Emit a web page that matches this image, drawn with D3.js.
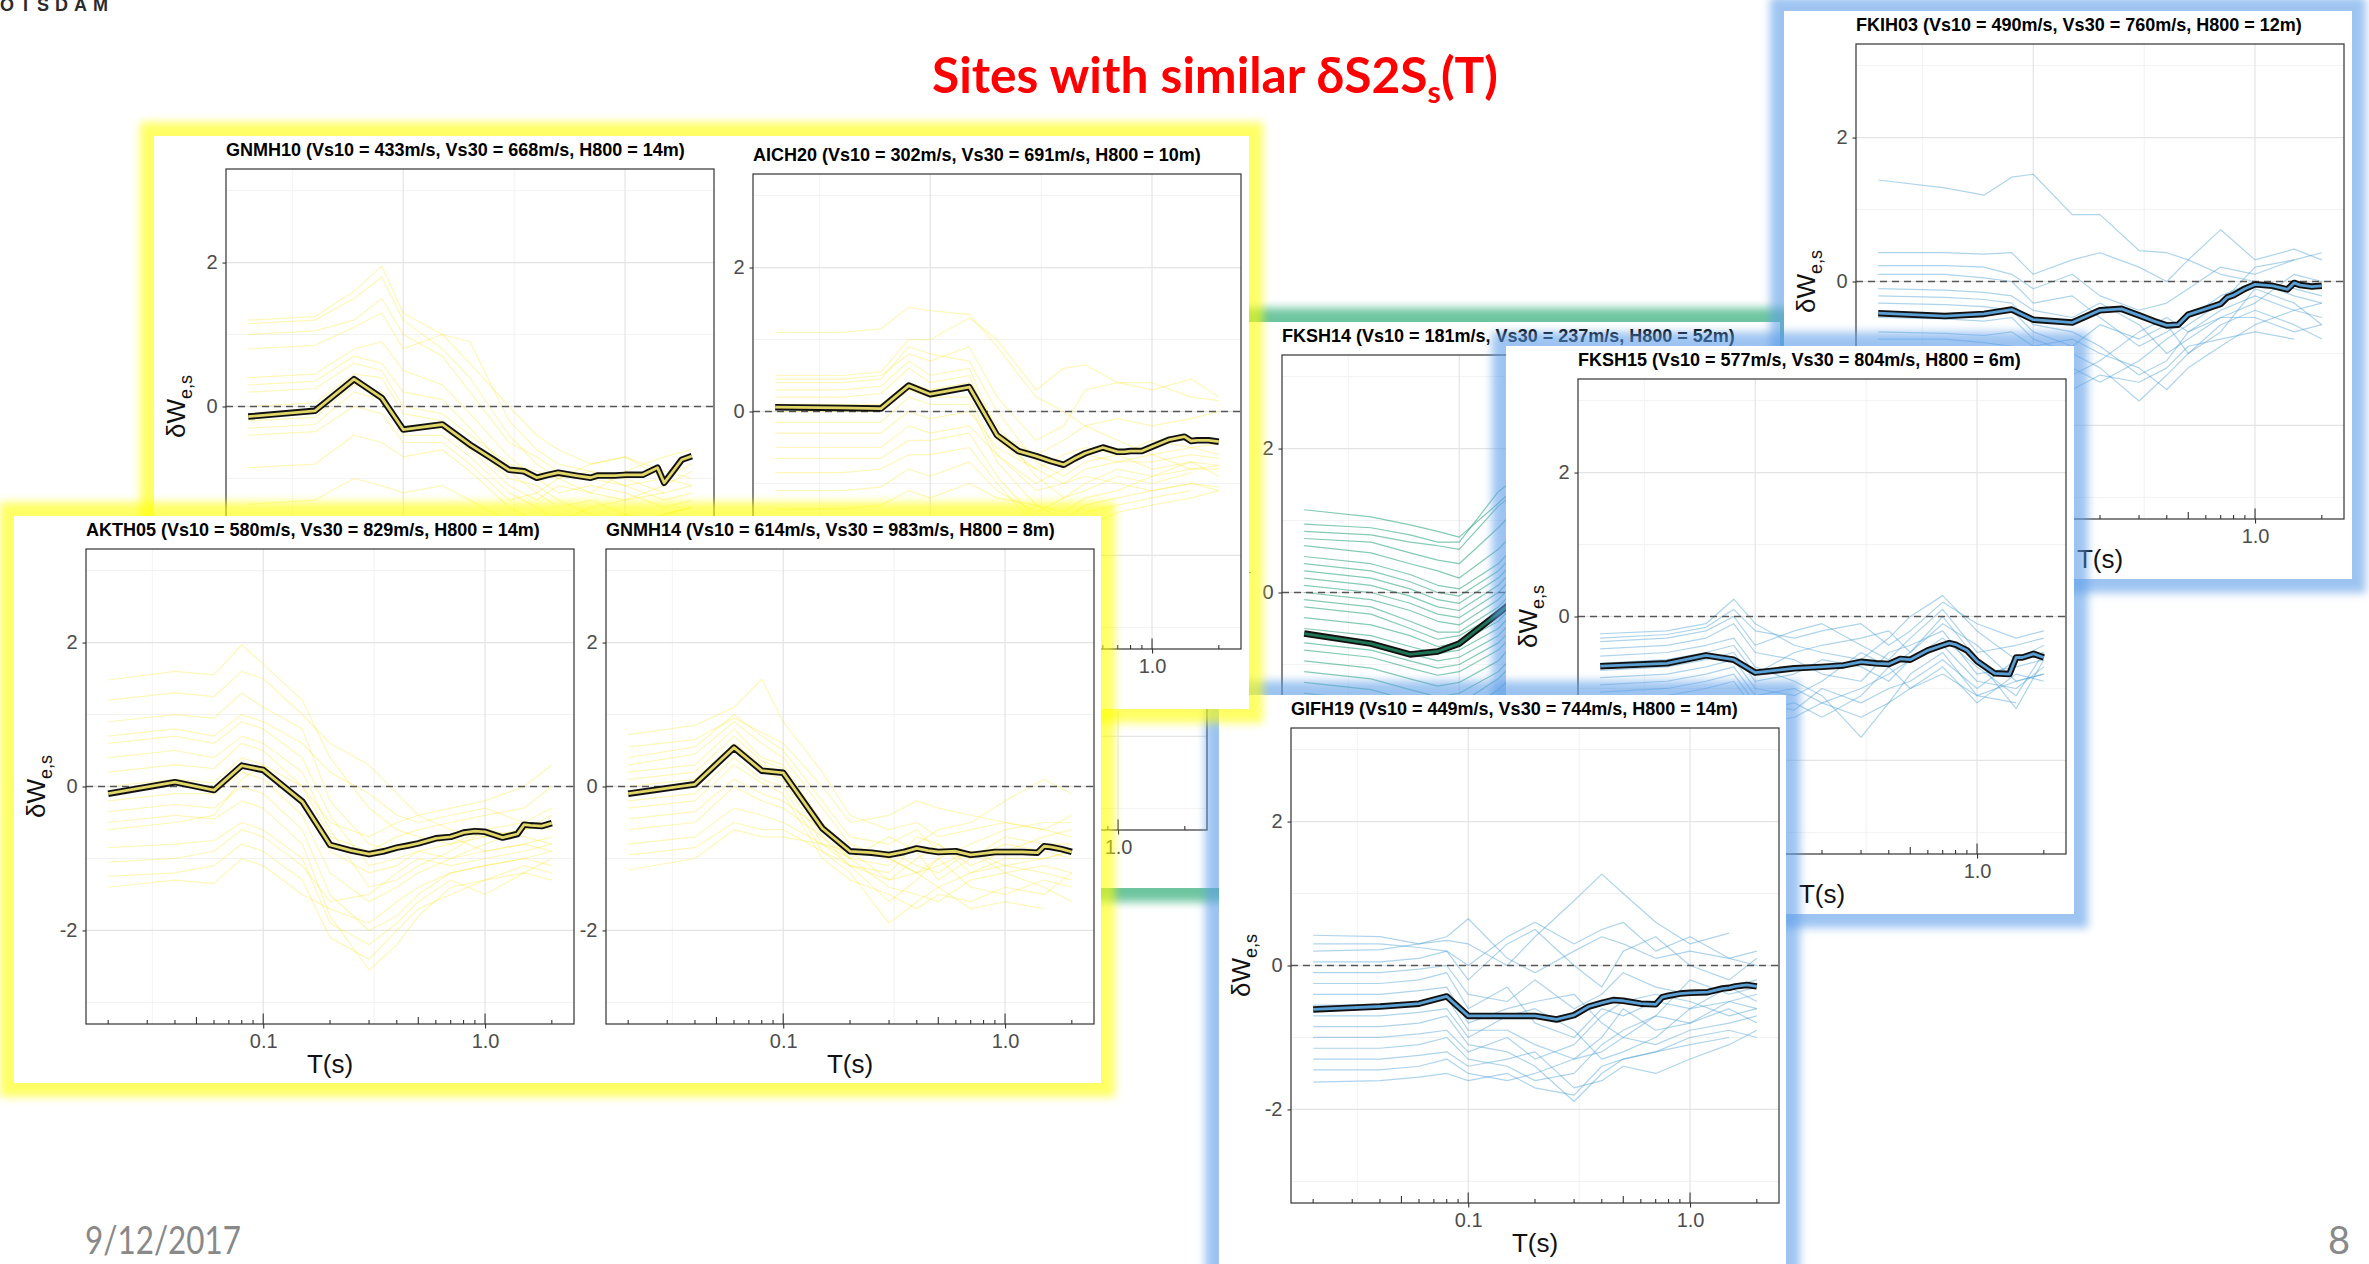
<!DOCTYPE html>
<html>
<head>
<meta charset="utf-8">
<script src="https://cdn.jsdelivr.net/npm/d3@7"></script>
<style>
  html, body { margin: 0; padding: 0; background: #ffffff; }
  svg { display: block; }
</style>
</head>
<body>
<svg id="slide" width="2369" height="1264"></svg>
<script>
// ---------------------------------------------------------------------------
// Data
// ---------------------------------------------------------------------------

// Site metadata
const siteCodes = ["GNMH10", "AICH20", "AKTH05", "GNMH14", "FKSH14", "FKSH15", "GIFH19", "FKIH03"];
const vs10 = [433, 302, 580, 614, 181, 577, 449, 490];
const vs30 = [668, 691, 829, 983, 237, 804, 744, 760];
const h800 = [14, 10, 14, 8, 52, 6, 14, 12];

// Periods (s) of the site-average curve
const meanPeriods = [0.02, 0.04, 0.06, 0.08, 0.1, 0.15, 0.2, 0.25, 0.3, 0.35, 0.4, 0.45, 0.5,
                     0.6, 0.7, 0.75, 0.8, 0.9, 1.0, 1.2, 1.4, 1.5, 1.6, 1.8, 2.0];
// Periods (s) of the individual-record curves
const recordPeriods = [0.02, 0.04, 0.06, 0.08, 0.1, 0.15, 0.2, 0.3, 0.4, 0.5, 0.7, 1.0, 1.5, 2.0];

// Axis breaks and labels
const yLimits = [-3, 3];
const yMajorBreaks = [-2, 0, 2];
const yMinorBreaks = [-3, -1, 1, 3];
const xMajorBreaks = [0.1, 1.0];
const xTickLabels = ["0.1", "1.0"];

// Site-average dW_es per site
const meanGNMH10 = [-0.14, -0.06, 0.38, 0.12, -0.32, -0.25, -0.53, -0.72, -0.88, -0.90, -0.99, -0.95, -0.92,
                    -0.96, -0.99, -0.96, -0.96, -0.96, -0.95, -0.95, -0.85, -1.06, -0.95, -0.74, -0.69];
const meanAICH20 = [0.06, 0.05, 0.04, 0.36, 0.24, 0.34, -0.33, -0.55, -0.62, -0.69, -0.74, -0.65, -0.58,
                    -0.50, -0.56, -0.56, -0.55, -0.55, -0.49, -0.39, -0.35, -0.41, -0.40, -0.40, -0.42];
const meanAKTH05 = [-0.10, 0.06, -0.05, 0.29, 0.23, -0.21, -0.81, -0.89, -0.94, -0.90, -0.85, -0.82, -0.79,
                    -0.72, -0.70, -0.67, -0.64, -0.62, -0.63, -0.71, -0.66, -0.53, -0.54, -0.55, -0.51];
const meanGNMH14 = [-0.10, 0.03, 0.54, 0.22, 0.19, -0.58, -0.90, -0.92, -0.95, -0.91, -0.86, -0.89, -0.91,
                    -0.90, -0.95, -0.94, -0.93, -0.91, -0.91, -0.91, -0.92, -0.83, -0.84, -0.87, -0.91];
const meanFKSH14 = [-0.57, -0.71, -0.86, -0.82, -0.71, -0.29, 0.02, 0.20, 0.30, 0.34, 0.33, 0.30, 0.26,
                    0.20, 0.14, 0.12, 0.09, 0.05, 0.01, -0.04, -0.08, -0.10, -0.11, -0.14, -0.15];
const meanFKSH15 = [-0.69, -0.65, -0.54, -0.60, -0.78, -0.72, -0.70, -0.68, -0.63, -0.65, -0.66, -0.59, -0.60,
                    -0.47, -0.40, -0.37, -0.39, -0.47, -0.62, -0.79, -0.80, -0.57, -0.57, -0.52, -0.57];
const meanGIFH19 = [-0.61, -0.57, -0.53, -0.43, -0.70, -0.70, -0.70, -0.75, -0.69, -0.57, -0.52, -0.48, -0.49,
                    -0.53, -0.54, -0.44, -0.42, -0.39, -0.38, -0.37, -0.32, -0.31, -0.29, -0.27, -0.29];
const meanFKIH03 = [-0.44, -0.48, -0.45, -0.39, -0.53, -0.57, -0.40, -0.38, -0.47, -0.55, -0.61, -0.60, -0.46,
                    -0.38, -0.31, -0.22, -0.19, -0.10, -0.04, -0.06, -0.11, -0.02, -0.05, -0.07, -0.06];

// Individual records dW_es per site (null = period not usable)
const recordsGNMH10 = [
  [1.20, 1.25, 1.60, 1.95, 1.30, 1.00, 0.90, -0.20, -0.60, -0.80, -0.90, -1.00, -1.20, -1.10],
  [1.15, 1.20, 1.50, 1.80, 1.20, 0.80, 0.40, -0.40, -0.80, -1.00, -1.20, -1.30, -1.10, -0.90],
  [1.00, 1.05, 1.20, 1.50, 1.00, 0.70, 0.20, -0.50, -0.70, -0.90, -1.00, -1.10, -1.30, -1.20],
  [0.80, 0.85, 1.10, 1.30, 0.80, 1.00, 0.60, 0.00, -0.40, -0.60, -0.80, -0.70, -0.90, -1.00],
  [0.40, 0.45, 0.80, 0.90, 0.50, 0.30, -0.10, -0.70, -1.00, -1.20, -1.10, -1.20, -1.40, -1.30],
  [0.30, 0.35, 0.70, 0.60, 0.20, 0.10, -0.30, -0.90, -1.20, -1.40, -1.30, -1.50, -1.60, null],
  [0.20, 0.25, 0.60, 0.50, 0.00, -0.10, -0.40, -0.80, -0.90, -1.00, -0.90, -1.10, -1.00, -0.80],
  [0.00, 0.05, 0.45, 0.40, -0.10, -0.20, -0.50, -1.00, -1.10, -1.30, -1.50, -1.60, -1.50, -1.40],
  [-0.20, -0.15, 0.30, 0.20, -0.30, -0.30, -0.60, -1.10, -1.30, -1.10, -1.20, -0.90, -0.70, -0.60],
  [-0.30, -0.25, 0.20, 0.10, -0.40, -0.40, -0.70, -1.20, -1.40, -1.60, -1.40, -1.30, -1.20, null],
  [-0.40, -0.35, 0.00, -0.10, -0.50, -0.50, -0.80, -1.30, -1.20, -1.00, -0.80, -0.70, -1.00, -1.10],
  [-0.85, -0.80, -0.40, -0.50, -0.70, -0.60, -0.90, -1.40, -1.60, -1.50, -1.70, -1.80, -1.50, -1.40],
  [-1.36, -1.30, -1.00, -1.10, -1.20, -1.10, -1.30, -1.60, -1.80, -1.70, -1.60, -1.50, -1.60, -1.70]
];
const recordsAICH20 = [
  [1.10, 1.10, 1.15, 1.45, 1.40, 1.35, 0.90, 0.20, 0.00, -0.20, -0.40, -0.60, -0.50, -0.60],
  [0.50, 0.50, 0.55, 1.00, 1.00, 1.30, 1.00, 0.30, 0.60, 0.65, 0.40, 0.30, 0.45, 0.20],
  [0.45, 0.45, 0.50, 0.80, 0.70, 0.90, 0.20, -0.40, -0.20, 0.30, 0.40, 0.40, 0.20, 0.15],
  [0.40, 0.40, 0.45, 0.90, 0.80, 0.70, 0.00, -0.70, -0.90, -0.70, -0.60, -0.80, -0.70, -0.90],
  [0.30, 0.30, 0.35, 0.70, 0.50, 0.60, -0.30, -0.60, -0.40, -0.20, -0.10, -0.20, -0.10, 0.00],
  [0.20, 0.20, 0.25, 0.60, 0.40, 0.50, -0.40, -0.80, -1.00, -0.80, -0.70, -0.60, -0.80, -0.75],
  [0.10, 0.10, 0.10, 0.40, 0.30, 0.40, -0.20, -0.90, -1.20, -1.10, -0.90, -1.00, -0.85, null],
  [0.00, 0.00, 0.00, 0.30, 0.20, 0.20, -0.60, -1.10, -1.00, -0.90, -1.00, -1.10, -1.00, -1.10],
  [-0.15, -0.15, -0.15, 0.20, 0.10, 0.10, -0.70, -1.30, -1.40, -1.20, -1.10, -0.90, -0.80, -0.80],
  [-0.30, -0.30, -0.30, 0.00, -0.10, 0.00, -0.50, -0.80, -0.60, -0.50, -0.60, -0.40, -0.50, -0.45],
  [-0.50, -0.50, -0.50, -0.20, -0.30, -0.20, -0.60, -1.00, -0.80, -0.60, -0.70, -0.70, -0.60, -0.65],
  [-0.65, -0.65, -0.65, -0.40, -0.40, -0.30, -0.90, -1.50, -1.70, -1.40, -1.30, -1.20, -1.10, null],
  [-0.85, -0.85, -0.80, -0.60, -0.60, -0.50, -1.00, -1.60, -1.90, -1.60, -1.40, -1.30, -1.20, -1.10],
  [-1.10, -1.10, -1.05, -0.80, -0.90, -0.70, -1.10, -1.40, -1.20, -1.00, -0.80, -0.90, -0.70, -0.75],
  [-1.36, -1.35, -1.30, -1.10, -1.20, -1.00, -1.20, -1.30, -1.50, -1.30, -1.20, -1.10, -1.00, -1.05]
];
const recordsAKTH05 = [
  [1.48, 1.60, 1.55, 1.97, 1.70, 1.20, 0.40, -0.30, -0.60, -0.70, -0.80, -0.60, -0.50, -0.30],
  [1.20, 1.30, 1.25, 1.60, 1.50, 1.00, 0.60, 0.30, -0.10, -0.40, -0.60, -0.70, -0.60, -0.50],
  [0.90, 1.00, 0.95, 1.30, 1.10, 0.80, -0.20, -0.80, -0.90, -0.80, -0.70, -0.90, -0.80, -0.70],
  [0.70, 0.80, 0.70, 1.00, 0.90, 0.60, 0.20, -0.10, -0.40, -0.50, -0.40, -0.30, -0.50, -0.60],
  [0.60, 0.70, 0.60, 0.90, 0.80, 0.40, -0.40, -1.10, -1.00, -0.90, -1.00, -0.80, -0.60, -0.40],
  [0.40, 0.50, 0.40, 0.70, 0.60, 0.20, -0.60, -1.40, -1.30, -1.10, -0.90, -0.60, -0.70, -0.80],
  [0.20, 0.30, 0.25, 0.60, 0.50, 0.00, -0.70, -0.90, -0.70, -0.60, -0.50, -0.40, -0.30, 0.00],
  [0.00, 0.10, 0.05, 0.40, 0.30, -0.20, -0.90, -1.20, -1.10, -0.90, -0.80, -0.70, -0.60, -0.50],
  [-0.20, -0.10, -0.10, 0.20, 0.10, -0.40, -1.20, -1.60, -1.40, -1.20, -1.00, -0.90, -0.80, -0.90],
  [-0.35, -0.25, -0.30, 0.00, -0.10, -0.60, -1.50, -2.00, -1.80, -1.50, -1.20, -1.10, -1.00, -1.10],
  [-0.50, -0.40, -0.45, -0.20, -0.30, -0.80, -1.80, -2.55, -2.20, -1.80, -1.40, -1.30, -1.20, -1.30],
  [-0.60, -0.50, -0.40, 0.10, 0.30, 0.00, -0.50, -0.70, -0.50, -0.40, -0.30, -0.20, 0.00, 0.30],
  [-0.85, -0.80, -0.75, -0.50, -0.60, -1.00, -1.90, -2.20, -1.90, -1.60, -1.30, -1.50, -1.20, -1.00],
  [-1.05, -1.00, -0.90, -0.60, -0.70, -1.10, -1.60, -1.50, -1.20, -1.00, -1.10, -1.00, -0.90, -0.80],
  [-1.25, -1.20, -1.10, -0.80, -0.90, -1.30, -2.10, -2.40, -2.00, -1.70, -1.50, -1.30, -1.10, -1.20],
  [-1.40, -1.30, -1.35, -1.00, -1.10, -1.50, -1.70, -1.90, -1.60, -1.40, -1.20, -1.10, -1.00, -0.90]
];
const recordsGNMH14 = [
  [0.72, 0.85, 1.10, 1.49, 0.90, 0.20, -0.40, -0.60, -0.50, -0.70, -0.60, -0.50, -0.60, -0.70],
  [0.55, 0.65, 0.95, 0.75, 0.60, 0.00, -0.50, -0.40, -0.20, -0.30, -0.40, -0.50, -0.60, -0.40],
  [0.40, 0.55, 1.00, 0.70, 0.50, -0.20, -0.70, -0.80, -0.60, -0.90, -1.00, -0.80, -0.90, -1.00],
  [0.30, 0.45, 0.90, 0.60, 0.40, -0.30, -0.80, -1.00, -1.20, -1.10, -0.90, -1.20, -1.10, -1.20],
  [0.20, 0.30, 0.80, 0.40, 0.30, -0.50, -0.90, -1.30, -1.00, -0.80, -1.20, -1.00, -1.00, -0.90],
  [0.10, 0.20, 0.70, 0.35, 0.25, -0.60, -1.00, -0.70, -0.90, -1.30, -1.00, -0.70, -0.80, -0.80],
  [0.00, 0.10, 0.60, 0.30, 0.20, -0.70, -1.10, -1.60, -1.30, -1.00, -1.40, -1.50, -1.30, -1.40],
  [-0.10, 0.00, 0.50, 0.20, 0.10, -0.80, -1.10, -1.20, -0.80, -0.60, -0.50, -0.20, 0.10, -0.10],
  [-0.20, -0.10, 0.40, 0.10, 0.00, -0.90, -1.20, -1.90, -1.60, -1.40, -1.20, -1.10, -1.20, -1.30],
  [-0.30, -0.20, 0.30, 0.05, -0.10, -1.00, -1.30, -1.50, -1.70, -1.50, -1.60, -1.40, -1.50, -1.20],
  [-0.45, -0.35, 0.10, -0.10, -0.20, -0.60, -0.90, -0.90, -1.10, -1.20, -0.90, -1.10, -1.00, -0.90],
  [-0.60, -0.50, 0.00, -0.20, -0.30, -0.70, -1.00, -1.10, -0.70, -0.80, -1.10, -0.90, -0.70, -0.60],
  [-0.80, -0.70, -0.30, -0.40, -0.50, -0.80, -1.00, -1.40, -1.50, -1.60, -1.30, -1.20, -1.40, -1.60],
  [-0.95, -0.85, -0.50, -0.60, -0.60, -0.90, -1.10, -1.30, -1.20, -1.00, -0.80, -0.60, -0.50, -0.50],
  [-1.16, -1.00, -0.60, -0.70, -0.70, -0.80, -0.90, -1.00, -1.20, -1.40, -1.70, -1.60, -1.70, null]
];
const recordsFKSH14 = [
  [1.15, 1.05, 0.94, 0.85, 0.77, 1.24, 1.60, 1.40, 1.10, 0.90, 0.60, 0.40, 0.20, 0.10],
  [0.95, 0.90, 0.80, 0.70, 0.70, 1.40, 1.70, 1.20, 0.90, 0.60, 0.30, 0.10, 0.00, -0.10],
  [0.85, 0.80, 0.70, 0.65, 0.60, 1.20, 1.50, 1.30, 1.00, 0.80, 0.50, 0.30, 0.20, 0.00],
  [0.75, 0.70, 0.55, 0.45, 0.40, 0.90, 1.30, 1.10, 0.90, 0.70, 0.40, 0.20, 0.00, -0.10],
  [0.65, 0.55, 0.40, 0.30, 0.20, 0.60, 1.00, 0.90, 0.80, 0.60, 0.40, 0.30, 0.10, 0.00],
  [0.50, 0.40, 0.25, 0.10, 0.05, 0.40, 0.80, 1.00, 0.70, 0.50, 0.30, 0.10, -0.10, -0.20],
  [0.40, 0.30, 0.15, 0.00, -0.05, 0.30, 0.70, 0.60, 0.50, 0.30, 0.10, 0.00, -0.20, -0.30],
  [0.30, 0.20, 0.05, -0.10, -0.15, 0.20, 0.60, 0.70, 0.60, 0.40, 0.20, 0.00, -0.10, -0.20],
  [0.20, 0.10, -0.05, -0.20, -0.25, 0.10, 0.50, 0.50, 0.40, 0.20, 0.00, -0.20, -0.30, -0.40],
  [0.10, 0.00, -0.15, -0.30, -0.35, 0.00, 0.40, 0.60, 0.50, 0.30, 0.10, -0.10, -0.20, -0.30],
  [0.00, -0.10, -0.25, -0.40, -0.45, -0.10, 0.30, 0.40, 0.30, 0.20, 0.00, -0.10, -0.30, -0.40],
  [-0.10, -0.20, -0.40, -0.55, -0.55, -0.20, 0.20, 0.50, 0.40, 0.20, 0.00, -0.20, -0.30, -0.30],
  [-0.20, -0.30, -0.50, -0.65, -0.60, -0.30, 0.10, 0.30, 0.20, 0.10, -0.10, -0.30, -0.40, -0.50],
  [-0.35, -0.45, -0.60, -0.75, -0.70, -0.40, 0.00, 0.20, 0.30, 0.10, -0.10, -0.20, -0.30, -0.40],
  [-0.50, -0.60, -0.75, -0.85, -0.80, -0.50, -0.10, 0.10, 0.10, 0.00, -0.20, -0.30, -0.40, -0.50],
  [-0.60, -0.70, -0.85, -0.95, -0.90, -0.60, -0.20, 0.20, 0.20, 0.00, -0.20, -0.40, -0.50, -0.60],
  [-0.70, -0.80, -0.95, -1.05, -1.00, -0.70, -0.30, 0.00, 0.00, -0.10, -0.30, -0.40, -0.50, -0.50],
  [-0.80, -0.90, -1.05, -1.15, -1.10, -0.80, -0.40, -0.10, -0.10, -0.20, -0.30, -0.50, -0.60, -0.60],
  [-0.95, -1.05, -1.20, -1.30, -1.25, -0.95, -0.50, -0.20, -0.20, -0.30, -0.40, -0.50, -0.70, -0.70],
  [-1.10, -1.20, -1.35, -1.45, -1.40, -1.10, -0.70, -0.30, -0.30, -0.40, -0.50, -0.60, -0.70, -0.80],
  [-1.25, -1.35, -1.50, -1.60, -1.55, -1.20, -0.80, -0.50, -0.40, -0.50, -0.60, -0.70, -0.80, -0.90],
  [-1.40, -1.50, -1.65, -1.75, -1.70, -1.35, -1.00, -0.60, -0.50, -0.60, -0.70, -0.80, -0.90, -1.00]
];
const recordsFKSH15 = [
  [-0.24, -0.20, -0.10, 0.24, -0.10, -0.40, -0.50, -0.60, -0.30, 0.00, 0.29, -0.20, -0.60, -0.50],
  [-0.30, -0.25, -0.15, 0.10, -0.20, -0.30, -0.20, -0.10, -0.40, -0.20, 0.20, -0.10, -0.30, -0.20],
  [-0.35, -0.30, -0.20, 0.00, -0.40, -0.20, -0.10, -0.40, -0.60, -0.30, 0.10, -0.50, -0.40, -0.30],
  [-0.45, -0.40, -0.30, -0.10, -0.50, -0.60, -0.80, -0.90, -0.50, -0.40, -0.20, -0.80, -0.70, -0.60],
  [-0.55, -0.50, -0.40, -0.30, -0.70, -0.90, -1.10, -1.68, -1.20, -0.80, -0.50, -1.10, -0.90, -0.80],
  [-0.65, -0.60, -0.50, -0.40, -0.80, -0.50, -0.40, -0.30, -0.20, -0.50, 0.00, -0.60, -1.28, -0.60],
  [-0.75, -0.70, -0.60, -0.50, -0.90, -0.80, -0.60, -0.70, -0.90, -0.60, -0.40, -0.90, -1.00, -0.70],
  [-0.85, -0.80, -0.70, -0.60, -1.00, -1.10, -0.90, -0.50, -0.70, -1.00, -0.70, -1.20, -0.80, -0.90],
  [-0.95, -0.90, -0.80, -0.70, -1.10, -1.00, -1.20, -1.00, -0.80, -0.60, -0.30, -0.70, -1.10, -0.50],
  [-1.05, -1.00, -0.90, -0.80, -1.20, -1.30, -1.00, -1.20, -1.00, -0.90, -0.60, -1.00, -0.60, -0.40],
  [-1.20, -1.10, -1.00, -0.90, -1.30, -1.20, -1.40, -1.10, -0.70, -0.50, -0.10, -0.40, -0.90, -0.80],
  [-1.40, -1.30, -1.20, -1.10, -1.50, -1.40, -1.20, -1.40, -1.20, -1.00, -0.80, -1.10, -1.20, null]
];
const recordsGIFH19 = [
  [0.42, 0.40, 0.30, 0.35, 0.30, 0.00, 0.40, 0.90, 1.27, 1.00, 0.60, 0.30, 0.45, null],
  [0.30, 0.30, 0.25, 0.20, 0.00, 0.40, 0.60, 0.30, 0.50, 0.60, 0.20, 0.40, 0.10, 0.00],
  [0.20, 0.22, 0.30, 0.40, 0.65, 0.10, -0.10, 0.20, 0.40, 0.30, 0.10, 0.20, 0.10, 0.20],
  [0.05, 0.05, 0.10, 0.20, -0.20, 0.30, 0.50, 0.00, -0.30, 0.20, 0.40, 0.00, -0.20, 0.10],
  [-0.10, -0.10, -0.05, 0.00, -0.40, -0.50, -0.20, -0.60, -0.40, -0.10, -0.30, -0.40, -0.30, -0.20],
  [-0.25, -0.25, -0.20, -0.10, -0.60, -0.30, -0.80, -1.00, -0.60, -0.70, -0.50, -0.60, -0.50, -0.60],
  [-0.40, -0.40, -0.35, -0.30, -0.80, -0.60, -0.50, -0.40, -0.80, -1.00, -0.70, -0.20, -0.40, -0.30],
  [-0.55, -0.55, -0.50, -0.45, -0.90, -0.90, -1.10, -1.30, -1.00, -0.60, -0.90, -0.80, -0.60, -0.80],
  [-0.70, -0.70, -0.65, -0.60, -1.00, -0.70, -0.60, -0.90, -1.30, -1.20, -1.00, -0.60, -0.30, -0.50],
  [-0.85, -0.85, -0.80, -0.70, -1.10, -1.20, -1.40, -1.89, -1.50, -1.30, -1.20, -1.00, -0.90, -1.00],
  [-1.00, -1.00, -0.95, -0.90, -1.20, -1.00, -1.30, -1.10, -0.70, -0.50, -0.40, -0.50, -0.70, -0.60],
  [-1.15, -1.15, -1.10, -1.00, -1.30, -1.40, -1.60, -1.50, -1.10, -0.90, -0.70, -0.80, -0.50, -0.40],
  [-1.30, -1.30, -1.25, -1.20, -1.40, -1.30, -1.20, -1.70, -1.60, -1.40, -1.50, -1.30, -1.10, -0.90],
  [-1.45, -1.45, -1.40, -1.30, -1.50, -1.60, -1.50, -1.30, -1.20, -1.00, -1.10, -0.90, -0.80, -0.70],
  [-1.62, -1.60, -1.55, -1.50, -1.60, -1.50, -1.70, -1.80, -1.40, -1.30, -1.20, -1.10, -1.00, null]
];
const recordsFKIH03 = [
  [1.41, 1.30, 1.20, 1.45, 1.49, 0.93, 0.93, 0.43, 0.40, 0.30, 0.10, 0.00, -0.10, -0.20],
  [0.40, 0.40, 0.38, 0.40, 0.10, 0.30, 0.40, 0.20, 0.00, 0.30, 0.72, 0.30, 0.45, 0.30],
  [0.22, 0.22, 0.20, 0.10, -0.10, 0.10, -0.20, -0.40, -0.30, -0.10, 0.20, 0.10, 0.30, 0.40],
  [0.10, 0.10, 0.05, 0.00, -0.30, -0.20, -0.50, -0.90, -0.70, -0.50, -0.20, 0.00, -0.20, -0.30],
  [-0.10, -0.12, -0.15, -0.20, -0.40, -0.50, -0.30, -0.60, -1.00, -0.80, -0.50, -0.30, 0.10, 0.00],
  [-0.20, -0.22, -0.25, -0.30, -0.60, -0.70, -0.90, -1.30, -1.10, -0.70, -0.40, -0.20, -0.40, -0.50],
  [-0.30, -0.32, -0.35, -0.40, -0.70, -0.90, -0.60, -0.80, -0.60, -1.00, -0.70, -0.10, -0.30, -0.60],
  [-0.50, -0.52, -0.55, -0.50, -0.80, -1.00, -1.20, -1.66, -1.30, -1.00, -0.60, -0.40, -0.60, -0.80],
  [-0.70, -0.72, -0.75, -0.70, -0.90, -0.80, -1.00, -1.20, -1.50, -1.20, -0.90, -0.60, -0.40, -0.30],
  [-0.80, -0.80, -0.85, -0.90, -1.00, -1.20, -1.40, -1.10, -0.80, -0.60, -0.30, 0.20, 0.30, null],
  [-1.00, -1.00, -1.05, -1.10, -1.20, -1.30, -1.10, -0.70, -0.50, -0.70, -0.50, -0.50, -0.70, -0.60],
  [-1.20, -1.20, -1.25, -1.30, -1.40, -1.50, -1.30, -1.40, -1.20, -0.90, -0.80, -0.70, -0.80, null]
];

const meansBySite = {
  GNMH10: meanGNMH10, AICH20: meanAICH20, AKTH05: meanAKTH05, GNMH14: meanGNMH14,
  FKSH14: meanFKSH14, FKSH15: meanFKSH15, GIFH19: meanGIFH19, FKIH03: meanFKIH03
};
const recordsBySite = {
  GNMH10: recordsGNMH10, AICH20: recordsAICH20, AKTH05: recordsAKTH05, GNMH14: recordsGNMH14,
  FKSH14: recordsFKSH14, FKSH15: recordsFKSH15, GIFH19: recordsGIFH19, FKIH03: recordsFKIH03
};

// ---------------------------------------------------------------------------
// Styles and layout
// ---------------------------------------------------------------------------
const palettes = {
  yellow: { glow: "#ffff00", thin: "#FDE725", thinOpacity: 0.32, core: "#e1d668" },
  green:  { glow: "#10a060", thin: "#1f9e78", thinOpacity: 0.55, core: "#1d7353" },
  blue:   { glow: "#5d9ee8", thin: "#4b9fd5", thinOpacity: 0.45, core: "#5a9fd4" }
};

const PLOT_W = 488, PLOT_H = 475;

// Picture frames, back to front; each holds one or two panels
const frames = [
  { palette: "green", x: 647, y: 322, w: 1133, h: 566, panels: [
      { site: null, plotX: 719, plotY: 355, yTitle: false },
      { site: "FKSH14", plotX: 1282, plotY: 355, yTitle: true } ] },
  { palette: "blue", x: 1784, y: 11, w: 568, h: 568, panels: [
      { site: "FKIH03", plotX: 1856, plotY: 44, yTitle: true } ] },
  { palette: "blue", x: 1506, y: 346, w: 568, h: 568, panels: [
      { site: "FKSH15", plotX: 1578, plotY: 379, yTitle: true } ] },
  { palette: "blue", x: 1219, y: 695, w: 567, h: 569, panels: [
      { site: "GIFH19", plotX: 1291, plotY: 728, yTitle: true } ] },
  { palette: "yellow", x: 154, y: 136, w: 1095, h: 573, panels: [
      { site: "GNMH10", plotX: 226, plotY: 169, yTitle: true },
      { site: "AICH20", plotX: 753, plotY: 174, yTitle: false } ] },
  { palette: "yellow", x: 14, y: 516, w: 1087, h: 567, panels: [
      { site: "AKTH05", plotX: 86, plotY: 549, yTitle: true },
      { site: "GNMH14", plotX: 606, plotY: 549, yTitle: false } ] }
];

const FONT = "'Liberation Sans', Arial, Helvetica, sans-serif";

// ---------------------------------------------------------------------------
// Drawing
// ---------------------------------------------------------------------------
const svg = d3.select("#slide");
const defs = svg.append("defs");
defs.append("filter")
    .attr("id", "soft-edge")
    .attr("x", "-10%").attr("y", "-10%").attr("width", "120%").attr("height", "120%")
  .append("feGaussianBlur").attr("stdDeviation", 4.5);

// log-x domain: data range expanded by 5% on each side (in log space)
const logLo = Math.log10(d3.min(meanPeriods)), logHi = Math.log10(d3.max(meanPeriods));
const logPad = (logHi - logLo) * 0.05;
const xDomain = [Math.pow(10, logLo - logPad), Math.pow(10, logHi + logPad)];
const yPad = (yLimits[1] - yLimits[0]) * 0.05;
const yDomain = [yLimits[0] - yPad, yLimits[1] + yPad];

function siteTitle(code) {
  const i = siteCodes.indexOf(code);
  return `${code} (Vs10 = ${vs10[i]}m/s, Vs30 = ${vs30[i]}m/s, H800 = ${h800[i]}m)`;
}

function drawPanel(g, p, pal) {
  const x = d3.scaleLog().domain(xDomain).range([p.plotX, p.plotX + PLOT_W]);
  const y = d3.scaleLinear().domain(yDomain).range([p.plotY + PLOT_H, p.plotY]);
  const left = p.plotX, right = p.plotX + PLOT_W, top = p.plotY, bottom = p.plotY + PLOT_H;

  // grid
  const xMinor = [Math.pow(10, -1.5), Math.pow(10, -0.5)];
  const grid = g.append("g");
  grid.selectAll(".ym").data(yMinorBreaks).join("line")
      .attr("x1", left).attr("x2", right).attr("y1", d => y(d)).attr("y2", d => y(d))
      .attr("stroke", "#f1f1f1").attr("stroke-width", 0.9);
  grid.selectAll(".xm").data(xMinor).join("line")
      .attr("y1", top).attr("y2", bottom).attr("x1", d => x(d)).attr("x2", d => x(d))
      .attr("stroke", "#f1f1f1").attr("stroke-width", 0.9);
  grid.selectAll(".yM").data(yMajorBreaks).join("line")
      .attr("x1", left).attr("x2", right).attr("y1", d => y(d)).attr("y2", d => y(d))
      .attr("stroke", "#e4e4e4").attr("stroke-width", 1.2);
  grid.selectAll(".xM").data(xMajorBreaks).join("line")
      .attr("y1", top).attr("y2", bottom).attr("x1", d => x(d)).attr("x2", d => x(d))
      .attr("stroke", "#e4e4e4").attr("stroke-width", 1.2);

  // individual records
  const line = d3.line()
      .defined(d => d[1] !== null)
      .x(d => x(d[0])).y(d => y(d[1]));
  if (p.site) {
    const recs = recordsBySite[p.site];
    g.append("g").selectAll("path").data(recs).join("path")
        .attr("d", r => line(r.map((v, i) => [recordPeriods[i], v])))
        .attr("fill", "none")
        .attr("stroke", pal.thin)
        .attr("stroke-opacity", pal.thinOpacity)
        .attr("stroke-width", 1.2)
        .attr("stroke-linejoin", "round");
  }

  // zero reference
  g.append("line")
      .attr("x1", left).attr("x2", right).attr("y1", y(0)).attr("y2", y(0))
      .attr("stroke", "#555").attr("stroke-width", 1.3).attr("stroke-dasharray", "7,5");

  // site average
  if (p.site) {
    const pts = meansBySite[p.site].map((v, i) => [meanPeriods[i], v]);
    g.append("path").attr("d", line(pts)).attr("fill", "none")
        .attr("stroke", "#111").attr("stroke-width", 6.5).attr("stroke-linejoin", "round");
    g.append("path").attr("d", line(pts)).attr("fill", "none")
        .attr("stroke", pal.core).attr("stroke-width", 2.8).attr("stroke-linejoin", "round");
  }

  // log ticks along the bottom edge
  const logTicks = [];
  [-2, -1, 0].forEach(k => d3.range(1, 10).forEach(m => {
    const v = m * Math.pow(10, k);
    if (v >= xDomain[0] && v <= xDomain[1]) logTicks.push({ v, m });
  }));
  g.append("g").selectAll("line").data(logTicks).join("line")
      .attr("x1", d => x(d.v)).attr("x2", d => x(d.v))
      .attr("y1", bottom)
      .attr("y2", d => bottom - (d.m === 1 ? 10.5 : d.m === 5 ? 7 : 4))
      .attr("stroke", "#333").attr("stroke-width", 1.1);

  // axes
  const yAxis = g.append("g").attr("transform", `translate(${left},0)`)
      .call(d3.axisLeft(y).tickValues(yMajorBreaks).tickSize(3.5).tickPadding(5)
            .tickFormat(d => String(d)));
  const xAxis = g.append("g").attr("transform", `translate(0,${bottom})`)
      .call(d3.axisBottom(x).tickValues(xMajorBreaks).tickSize(4.5).tickPadding(5)
            .tickFormat((d, i) => xTickLabels[i]));
  [yAxis, xAxis].forEach(a => {
    a.select(".domain").remove();
    a.selectAll(".tick line").attr("stroke", "#333").attr("stroke-width", 1.1);
    a.selectAll(".tick text").attr("fill", "#4d4d4d")
        .style("font-family", FONT).style("font-size", "20px");
  });

  // panel border
  g.append("rect").attr("x", left).attr("y", top).attr("width", PLOT_W).attr("height", PLOT_H)
      .attr("fill", "none").attr("stroke", "#333").attr("stroke-width", 1.2);

  // axis titles
  g.append("text")
      .attr("x", (left + right) / 2).attr("y", bottom + 49)
      .attr("text-anchor", "middle")
      .style("font-family", FONT).style("font-size", "26px").attr("fill", "#111")
      .text("T(s)");
  if (p.yTitle) {
    const t = g.append("text")
        .attr("transform", `translate(${left - 41},${(top + bottom) / 2}) rotate(-90)`)
        .attr("text-anchor", "middle")
        .style("font-family", FONT).style("font-size", "26px").attr("fill", "#111");
    t.append("tspan").text("\u03B4W");
    t.append("tspan").attr("dy", 7).style("font-size", "18px").text("e,s");
  }

  // panel title
  if (p.site) {
    g.append("text")
        .attr("x", left).attr("y", top - 13)
        .style("font-family", FONT).style("font-size", "18px").style("font-weight", "bold")
        .attr("fill", "#000")
        .text(siteTitle(p.site));
  }
}

frames.forEach((f, i) => {
  const pal = palettes[f.palette];
  const g = svg.append("g");
  const pad = 14;
  // soft coloured frame around the picture
  g.append("rect")
      .attr("x", f.x - pad).attr("y", f.y - pad)
      .attr("width", f.w + 2 * pad).attr("height", f.h + 2 * pad)
      .attr("fill", pal.glow).attr("opacity", 0.6)
      .attr("filter", "url(#soft-edge)");
  defs.append("clipPath").attr("id", "pic" + i)
    .append("rect").attr("x", f.x).attr("y", f.y).attr("width", f.w).attr("height", f.h);
  const pic = g.append("g").attr("clip-path", `url(#pic${i})`);
  pic.append("rect").attr("x", f.x).attr("y", f.y).attr("width", f.w).attr("height", f.h)
      .attr("fill", "#fff");
  f.panels.forEach(p => drawPanel(pic, p, pal));
});

// ---------------------------------------------------------------------------
// Slide text
// ---------------------------------------------------------------------------
const heading = svg.append("text")
    .attr("x", 932).attr("y", 93)
    .attr("textLength", 566).attr("lengthAdjust", "spacingAndGlyphs")
    .style("font-family", "Lato, 'Open Sans', sans-serif")
    .style("font-size", "49px").style("font-weight", "bold")
    .attr("fill", "#ff0000");
heading.append("tspan").text("Sites with similar \u03B4S2S");
heading.append("tspan").attr("dy", 10).style("font-size", "30px").text("s");
heading.append("tspan").attr("dy", -10).text("(T)");

// university name, running off the top-left corner of the slide
svg.append("text")
    .attr("x", -18).attr("y", 11)
    .style("font-family", FONT).style("font-size", "18px").style("font-weight", "bold")
    .style("letter-spacing", "6px")
    .attr("fill", "#2b2b2b")
    .text("POTSDAM");

svg.append("text")
    .attr("x", 85).attr("y", 1254)
    .attr("textLength", 156).attr("lengthAdjust", "spacingAndGlyphs")
    .style("font-family", "Lato, 'Open Sans', sans-serif").style("font-size", "38px")
    .attr("fill", "#898989")
    .text("9/12/2017");

svg.append("text")
    .attr("x", 2350).attr("y", 1254).attr("text-anchor", "end")
    .style("font-family", "Lato, 'Open Sans', sans-serif").style("font-size", "38px")
    .attr("fill", "#898989")
    .text("8");
</script>
</body>
</html>
